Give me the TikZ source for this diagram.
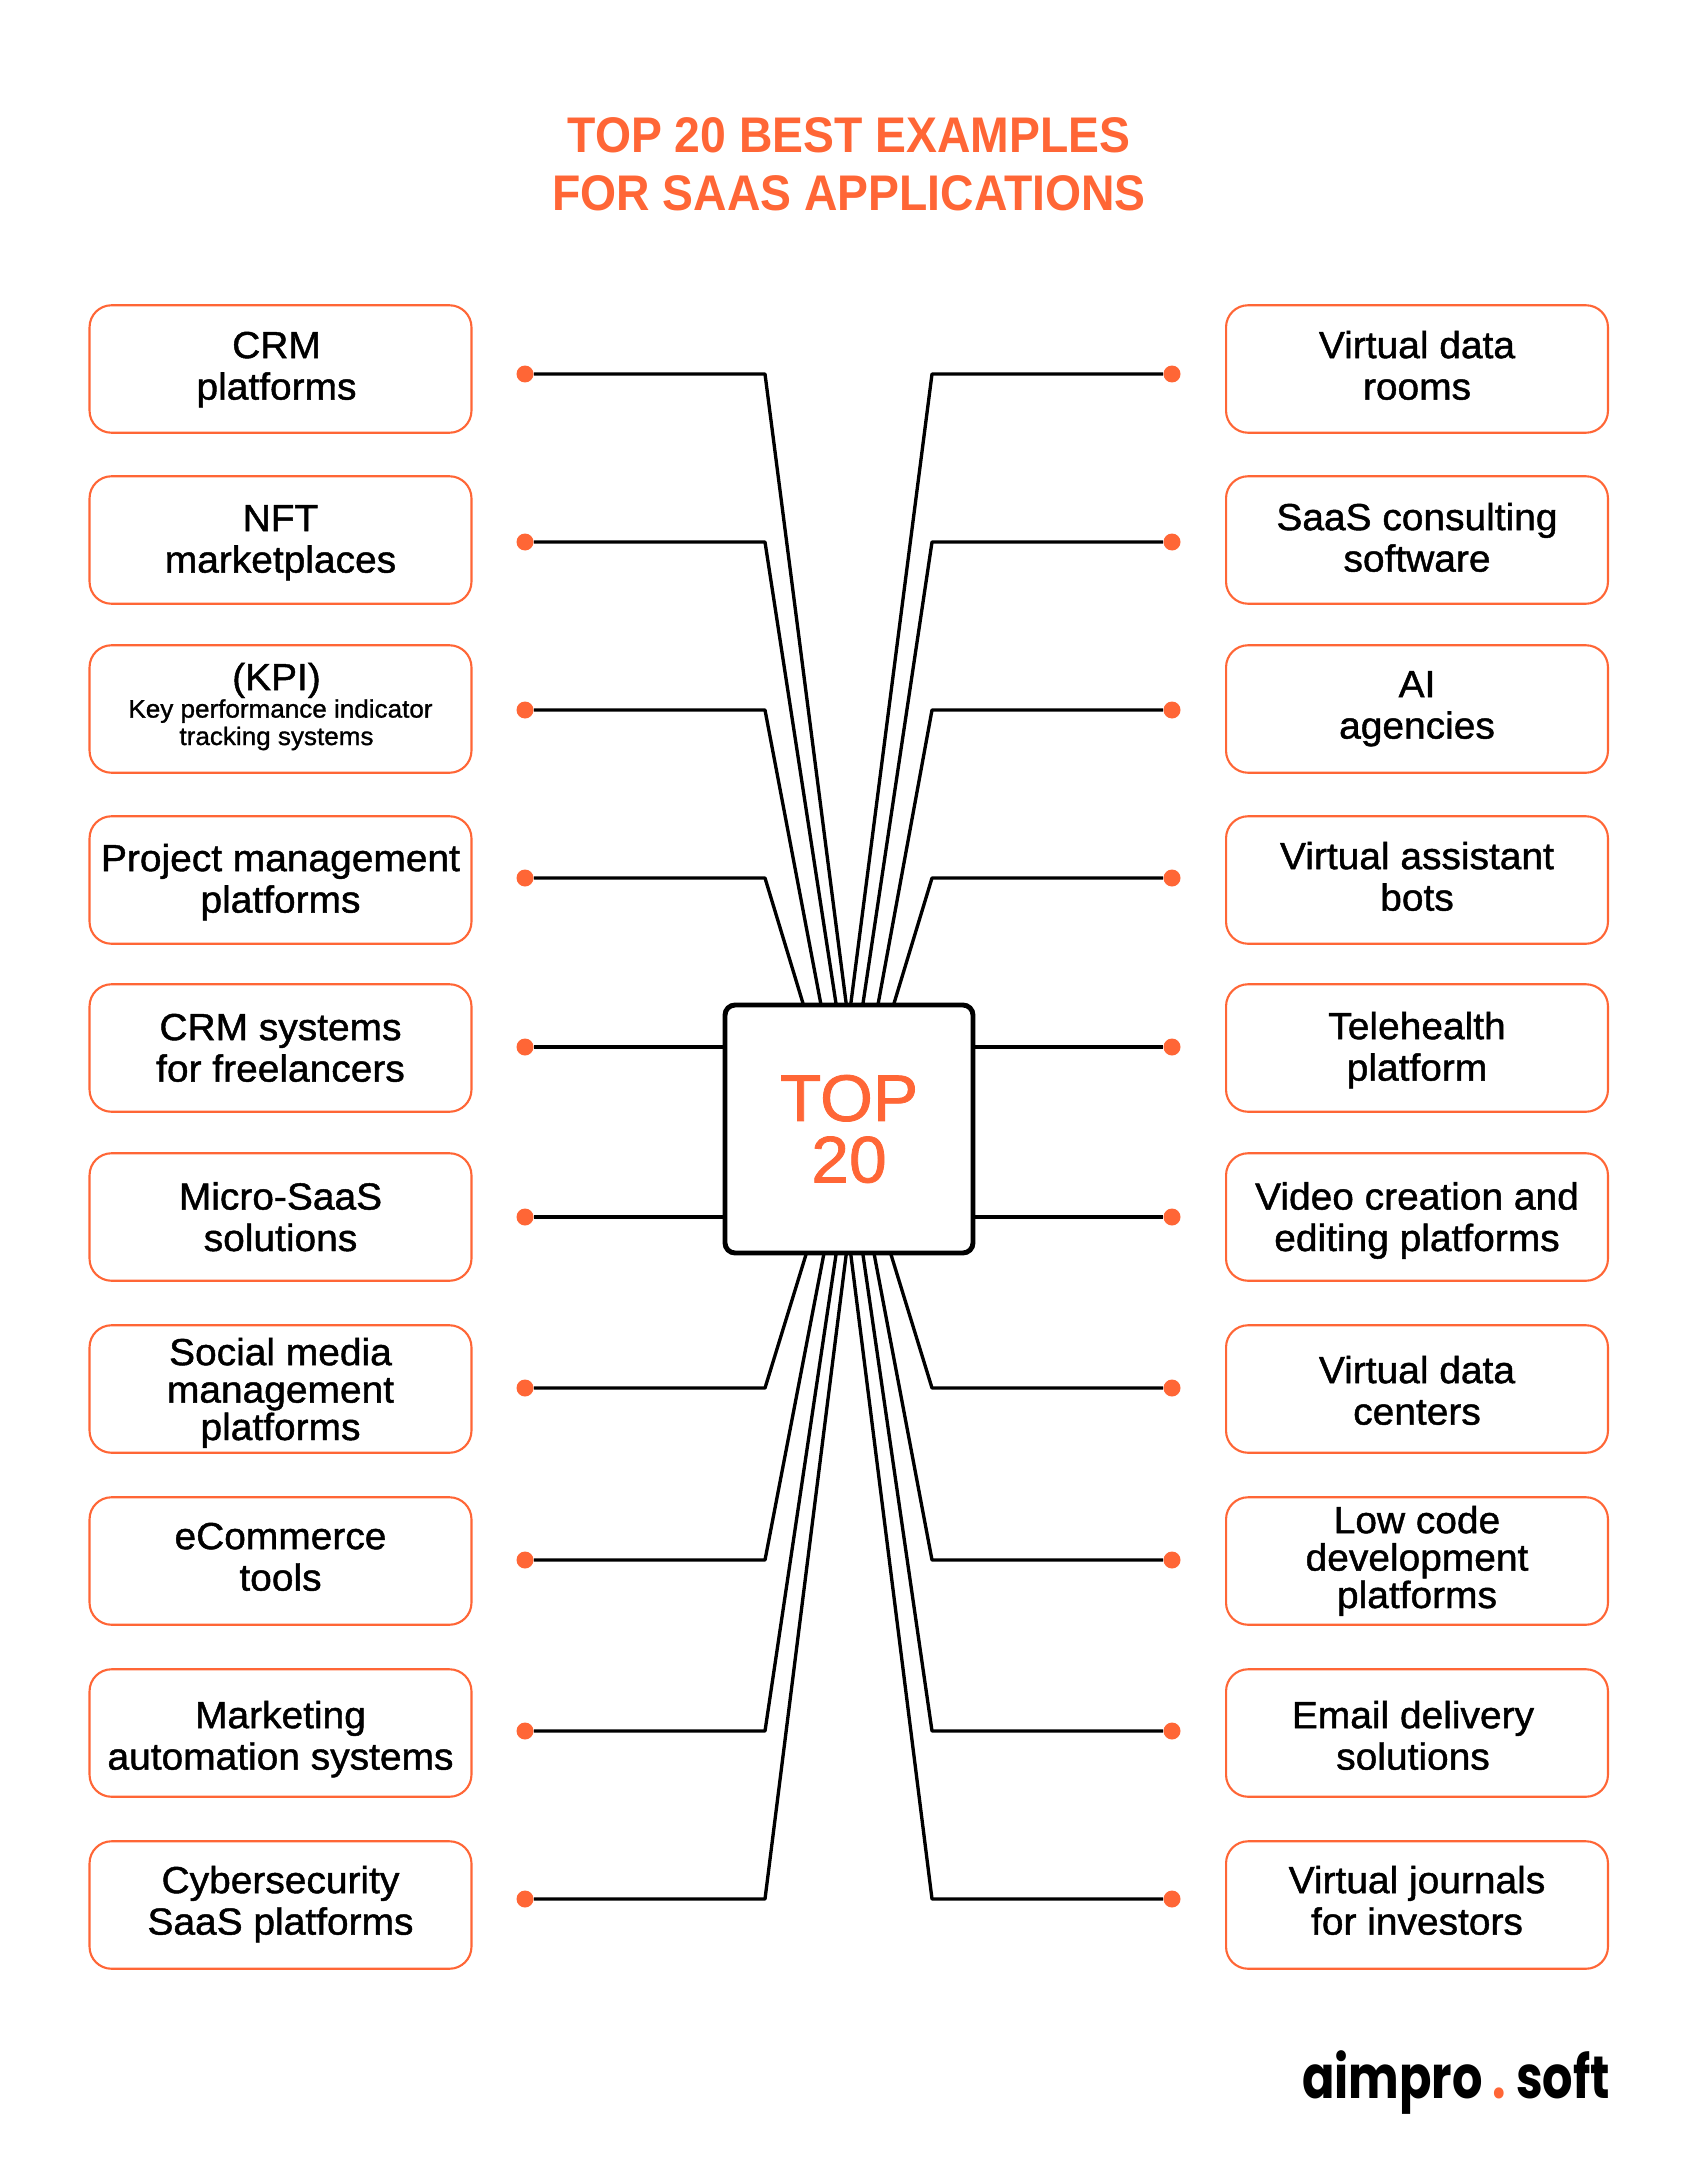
\documentclass[tikz,border=0pt]{standalone}
\usepackage{fontspec}
\setmainfont{Liberation Sans}
\newfontfamily\itemfont[FakeBold=1.2, FakeStretch=1.03]{Liberation Sans}
\newfontfamily\titlefont[FakeStretch=0.925]{Liberation Sans}
\newfontfamily\logofont[FakeStretch=0.8]{Poppins}
\definecolor{accent}{HTML}{FF6636}
\tikzset{
itembox/.style={draw=accent, line width=1.2pt, rounded corners=0.44cm, minimum width=7.64cm, minimum height=2.55cm, inner sep=0pt, align=center, text height=2*#1*0.02cm, text depth=0pt, font=\itemfont\fontsize{21.5pt}{23.6pt}\selectfont},
tightbox/.style={itembox=#1, font=\itemfont\fontsize{21.5pt}{21.3pt}\selectfont},
kpibox/.style={itembox=#1, font=\itemfont\fontsize{14.4pt}{15.6pt}\selectfont},
dot/.style={circle, fill=accent, minimum size=0.34cm, inner sep=0pt},
wire/.style={line width=1.9pt, line join=round},
}
\newcommand{\nudge}{\hspace*{0.16cm}}

\begin{document}
\begin{tikzpicture}[x=0.02cm, y=-0.02cm]
\useasboundingbox (0,0) rectangle (1697,2176);

\node[text=accent, align=center, font=\titlefont\bfseries\fontsize{28.5pt}{33pt}\selectfont](title) at (849,164) {TOP 20 BEST EXAMPLES\\FOR SAAS APPLICATIONS};

\node[itembox=30.6](L1) at (280.5,369) {CRM\nudge\\platforms\nudge};
\node[itembox=32.6](L2) at (280.5,540) {NFT\\marketplaces};
\node[kpibox=36](L3) at (280.5,709) {\fontsize{21.5pt}{15.6pt}\selectfont (KPI)\nudge\\Key performance indicator\nudge\\tracking systems\nudge};
\node[itembox=32.6](L4) at (280.5,880) {Project management\\platforms};
\node[itembox=33.6](L5) at (280.5,1048) {CRM systems\\for freelancers};
\node[itembox=34](L6) at (280.5,1217) {Micro-SaaS\\solutions};
\node[tightbox=51](L7) at (280.5,1389) {Social media\\management\\platforms};
\node[itembox=29.6](L8) at (280.5,1561) {eCommerce\\tools};
\node[itembox=36.6](L9) at (280.5,1733) {Marketing\\automation systems};
\node[itembox=29.6](L10) at (280.5,1905) {Cybersecurity\\SaaS platforms};

\node[itembox=30.6](R1) at (1417,369) {Virtual data\\rooms};
\node[itembox=31.6](R2) at (1417,540) {SaaS consulting\\software};
\node[itembox=29.6](R3) at (1417,709) {AI\\agencies};
\node[itembox=30.6](R4) at (1417,880) {Virtual assistant\\bots};
\node[itembox=32.6](R5) at (1417,1048) {Telehealth\\platform};
\node[itembox=34](R6) at (1417,1217) {Video creation and\\editing platforms};
\node[itembox=35.6](R7) at (1417,1389) {Virtual data\\centers};
\node[tightbox=47](R8) at (1417,1561) {Low code\\development\\platforms};
\node[itembox=36.6](R9) at (1417,1733) {Email delivery\nudge\\solutions\nudge};
\node[itembox=29.6](R10) at (1417,1905) {Virtual journals\\for investors};

\node[dot](DL1) at (525,374) {};
\node[dot](DL2) at (525,542) {};
\node[dot](DL3) at (525,710) {};
\node[dot](DL4) at (525,878) {};
\node[dot](DL5) at (525,1047) {};
\node[dot](DL6) at (525,1217) {};
\node[dot](DL7) at (525,1388) {};
\node[dot](DL8) at (525,1560) {};
\node[dot](DL9) at (525,1731) {};
\node[dot](DL10) at (525,1899) {};

\node[dot](DR1) at (1172,374) {};
\node[dot](DR2) at (1172,542) {};
\node[dot](DR3) at (1172,710) {};
\node[dot](DR4) at (1172,878) {};
\node[dot](DR5) at (1172,1047) {};
\node[dot](DR6) at (1172,1217) {};
\node[dot](DR7) at (1172,1388) {};
\node[dot](DR8) at (1172,1560) {};
\node[dot](DR9) at (1172,1731) {};
\node[dot](DR10) at (1172,1899) {};

\coordinate(EL) at (765,0);
\coordinate(ER) at (932,0);

\coordinate(PL1) at (847,1010);
\coordinate(PL2) at (837,1010);
\coordinate(PL3) at (822,1010);
\coordinate(PL4) at (805,1010);
\coordinate(PR1) at (850,1010);
\coordinate(PR2) at (862,1010);
\coordinate(PR3) at (877,1010);
\coordinate(PR4) at (892,1010);
\coordinate(PL7) at (808,1248);
\coordinate(PL8) at (825,1248);
\coordinate(PL9) at (837,1248);
\coordinate(PL10) at (847,1248);
\coordinate(PR7) at (889,1248);
\coordinate(PR8) at (873,1248);
\coordinate(PR9) at (862,1248);
\coordinate(PR10) at (850,1248);

\draw[wire](DL1)--(DL1-|EL)--(PL1);
\draw[wire](DL2)--(DL2-|EL)--(PL2);
\draw[wire](DL3)--(DL3-|EL)--(PL3);
\draw[wire](DL4)--(DL4-|EL)--(PL4);
\draw[wire](DL7)--(DL7-|EL)--(PL7);
\draw[wire](DL8)--(DL8-|EL)--(PL8);
\draw[wire](DL9)--(DL9-|EL)--(PL9);
\draw[wire](DL10)--(DL10-|EL)--(PL10);

\draw[wire](DR1)--(DR1-|ER)--(PR1);
\draw[wire](DR2)--(DR2-|ER)--(PR2);
\draw[wire](DR3)--(DR3-|ER)--(PR3);
\draw[wire](DR4)--(DR4-|ER)--(PR4);
\draw[wire](DR7)--(DR7-|ER)--(PR7);
\draw[wire](DR8)--(DR8-|ER)--(PR8);
\draw[wire](DR9)--(DR9-|ER)--(PR9);
\draw[wire](DR10)--(DR10-|ER)--(PR10);

\node[draw=black, fill=white, line width=2.8pt, rounded corners=0.2cm, minimum size=4.96cm, inner sep=0pt, text=accent, align=center, font=\itemfont\fontsize{37.5pt}{35pt}\selectfont](top) at (849,1129) {TOP\\20};

\draw[wire](DL5)--(DL5-|top.west);
\draw[wire](DL6)--(DL6-|top.west);
\draw[wire](DR5)--(DR5-|top.east);
\draw[wire](DR6)--(DR6-|top.east);

\node[inner sep=0pt, anchor=base, font=\logofont\bfseries\fontsize{34pt}{34pt}\selectfont](logo) at (1456,2098) {aimpro\,\textcolor{accent}{.}\,soft};
\end{tikzpicture}
\end{document}
